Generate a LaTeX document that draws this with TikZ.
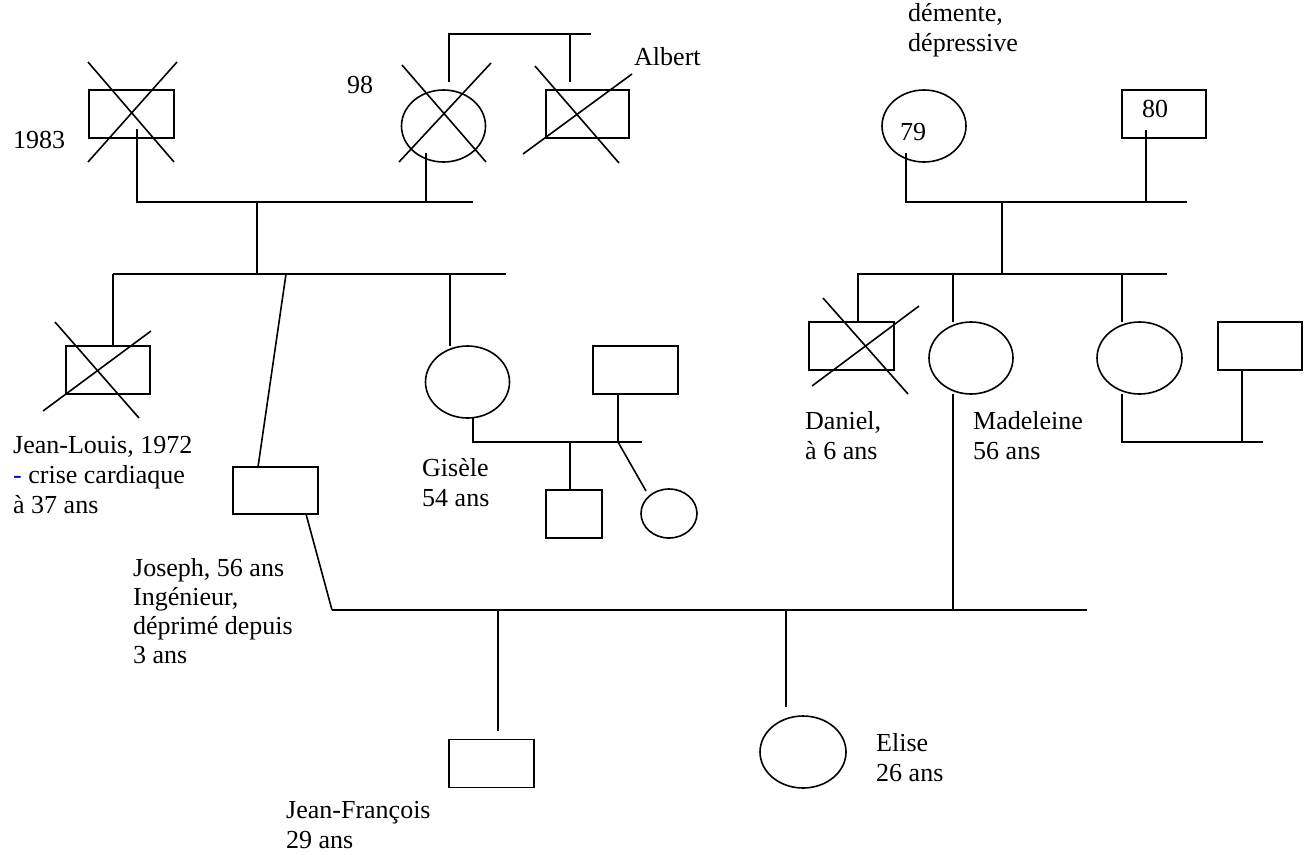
\documentclass[tikz,border=0pt]{standalone}
\usepackage{fontspec}
\setmainfont{Liberation Serif}
\usetikzlibrary{shapes.geometric}
\begin{document}
\begin{tikzpicture}[x=1pt,y=-1pt,
  ln/.style={line width=1.6pt},
  male/.style={draw,line width=1.6pt,rectangle,inner sep=0pt,minimum width=85pt,minimum height=48pt},
  female/.style={draw,line width=1.6pt,ellipse,inner sep=0pt,minimum width=84pt,minimum height=72pt},
  lbl/.style={font=\fontsize{26}{30}\selectfont,inner sep=0pt,anchor=base west,align=left}]
\useasboundingbox (0,0) rectangle (1308,854);
% persons
\node[male]   (gf)  at (131.5,114) {};
\node[female] (gm)  at (443.5,126) {};
\node[male,minimum width=83pt] (ab) at (587.5,114) {};
\node[female] (mgm) at (924,126) {};
\node[male,minimum width=84pt] (mgf) at (1164,114) {};
\node[male,minimum width=84pt] (jl)  at (108,370) {};
\node[male,minimum width=85pt,minimum height=47pt] (jo) at (275.5,490.5) {};
\node[female] (gi)  at (467.5,382) {};
\node[male]   (gh)  at (635.5,370) {};
\node[male,minimum width=56pt] (gs) at (574,514) {};
\node[female,minimum width=56pt,minimum height=49pt] (gd) at (669,513.5) {};
\node[male]   (da)  at (851.5,346) {};
\node[female] (ma)  at (971,358) {};
\node[female,minimum width=85pt] (si) at (1139.5,358) {};
\node[male,minimum width=84pt] (sh) at (1260,346) {};
\node[male]   (jf)  at (491.5,763.5) {};
\node[female,minimum width=86pt] (el) at (803,752) {};
% crosses (deceased)
\draw[ln] (88,62)--(174,162) (177,62)--(88,162);
\draw[ln] (402,65)--(486,162) (491,63)--(399,162);
\draw[ln] (535,66)--(619,163) (632,74)--(523,154);
\draw[ln] (55,322)--(139,418) (151,331)--(43,411);
\draw[ln] (823,298)--(908,394) (919,306)--(812,386);
% left grandparents
\draw[ln] (137,129)--(137,202)--(473,202);
\draw[ln] (426,153)--(426,202);
\draw[ln] (257,202)--(257,274);
\draw[ln] (113,274)--(506,274);
\draw[ln] (449,82)--(449,34)--(591,34);
\draw[ln] (570,34)--(570,82);
\draw[ln] (113,274)--(jl.north -| 113,0);
\draw[ln] (286,274)--(258,467);
\draw[ln] (450,274)--(450,346);
% Gisele family
\draw[ln] (473,418)--(473,442)--(642,442);
\draw[ln] (618,394)--(618,442);
\draw[ln] (570,442)--(gs.north -| 570,0);
\draw[ln] (618,442)--(646,491);
% Joseph + Madeleine
\draw[ln] (306,514)--(332,610);
\draw[ln] (332,610)--(1087,610);
\draw[ln] (498,610)--(498,731);
\draw[ln] (786,610)--(786,707);
\draw[ln] (953,394)--(953,610);
% right grandparents
\draw[ln] (906,153)--(906,202)--(1187,202);
\draw[ln] (1146,130)--(1146,202);
\draw[ln] (1002,202)--(1002,274);
\draw[ln] (857,274)--(1167,274);
\draw[ln] (858,274)--(858,322);
\draw[ln] (953,274)--(953,322);
\draw[ln] (1122,274)--(1122,322);
\draw[ln] (1122,394)--(1122,442)--(1263,442);
\draw[ln] (1242,370)--(1242,442);
% labels (base = baseline of last line)
\node[lbl] (t1983) at (13,148) {1983};
\node[lbl] (t98) at (347,93) {98};
\node[lbl] (talb) at (634,65) {Albert};
\node[lbl] (tdem) at (908,51) {démente,\\dépressive};
\node[lbl] (t79) at (900,140) {79};
\node[lbl] (t80) at (1142,117) {80};
\node[lbl] (tjl) at (13,513) {Jean-Louis, 1972\\{\color{blue}-} crise cardiaque\\à 37 ans};
\node[lbl] (tgi) at (422,506) {Gisèle\\54 ans};
\node[lbl] (tda) at (805,459) {Daniel,\\à 6 ans};
\node[lbl] (tma) at (973,459) {Madeleine\\56 ans};
\node[lbl,font=\fontsize{26}{29}\selectfont] (tjo) at (133,663) {Joseph, 56 ans\\Ingénieur,\\déprimé depuis\\3 ans};
\node[lbl] (tjf) at (286,848) {Jean-François\\29 ans};
\node[lbl] (tel) at (876,781) {Elise\\26 ans};
\end{tikzpicture}
\end{document}
